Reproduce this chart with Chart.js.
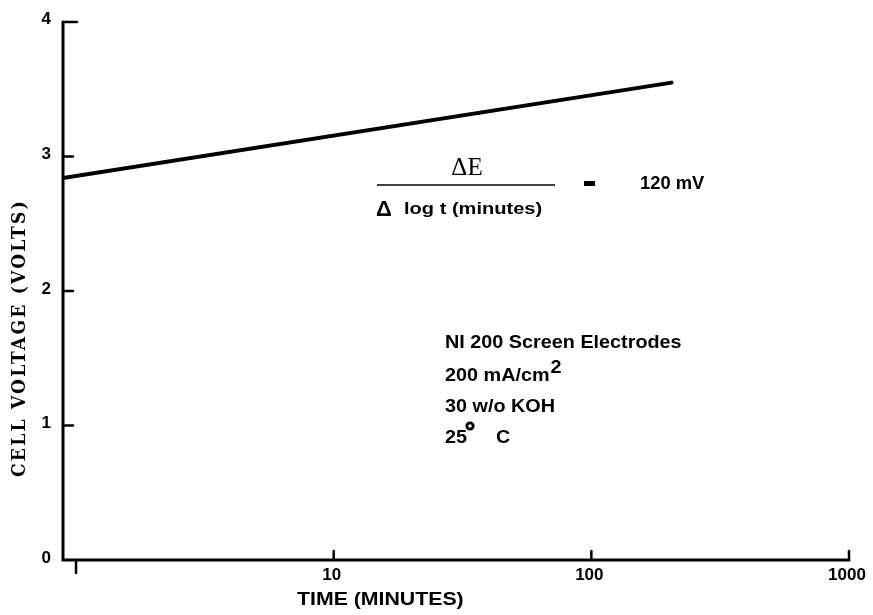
<!DOCTYPE html>
<html>
<head>
<meta charset="utf-8">
<script src="https://cdn.jsdelivr.net/npm/chart.js@4/dist/chart.umd.min.js"></script>
<style>
  html, body { margin: 0; padding: 0; background: #fff; }
  #wrap { width: 873px; height: 615px; position: relative; }
</style>
</head>
<body>
<div id="wrap"><canvas id="c" width="873" height="615"></canvas></div>
<script>
// Cell voltage vs. time (log scale)
const timeMinutes = [0.89, 205];
const cellVoltage = [2.84, 3.55];

const xTickValues = [1, 10, 100, 1000];
const xTickLabels = ['', '10', '100', '1000'];
const yTickValues = [0, 1, 2, 3, 4];

const xTitle = 'TIME (MINUTES)';
const yTitle = 'CELL VOLTAGE (VOLTS)';
const slopeNumerator = 'ΔE';
const slopeDenominator = 'log t (minutes)';
const slopeValue = '120 mV';
const conditions = ['NI 200 Screen Electrodes', '200 mA/cm', '30 w/o KOH', '25'];

const INK = '#000';
const SANS = '"Liberation Sans", Arial, sans-serif';
const WIDE = 1.1;   // the lettering is a broad gothic face

// left-aligned text stretched horizontally; returns the drawn width
function wideText(ctx, text, x, y, sx) {
  ctx.save();
  ctx.translate(x, y);
  ctx.scale(sx, 1);
  ctx.textAlign = 'left';
  ctx.fillText(text, 0, 0);
  const w = ctx.measureText(text).width * sx;
  ctx.restore();
  return w;
}

// Axes, ticks, labels and notes drawn with the scales' own pixel mapping
const decorations = {
  id: 'decorations',
  afterDraw(chart) {
    const ctx = chart.ctx;
    const xs = chart.scales.x, ys = chart.scales.y;
    const area = chart.chartArea;
    ctx.save();
    ctx.strokeStyle = INK;
    ctx.fillStyle = INK;
    ctx.lineCap = 'round';

    // axis lines
    ctx.lineWidth = 3;
    ctx.beginPath();
    ctx.moveTo(area.left, ys.getPixelForValue(4));
    ctx.lineTo(area.left, ys.getPixelForValue(0));
    ctx.lineTo(xs.getPixelForValue(1000), ys.getPixelForValue(0));
    ctx.stroke();

    // y ticks point into the plot
    ctx.lineWidth = 2.5;
    yTickValues.forEach(v => {
      if (v === 0) return;
      const py = ys.getPixelForValue(v);
      ctx.beginPath();
      ctx.moveTo(area.left, py);
      ctx.lineTo(area.left + (v === 4 ? 14 : 10), py);
      ctx.stroke();
    });

    // x ticks: first one hangs below, the rest rise above the axis
    const base = ys.getPixelForValue(0);
    xTickValues.forEach((v, i) => {
      const px = xs.getPixelForValue(v);
      ctx.beginPath();
      if (i === 0) { ctx.moveTo(px, base); ctx.lineTo(px, base + 13); }
      else { ctx.moveTo(px, base); ctx.lineTo(px, base - 9); }
      ctx.stroke();
    });

    // tick labels
    ctx.font = 'bold 17px ' + SANS;
    ctx.textAlign = 'right';
    ctx.textBaseline = 'middle';
    yTickValues.forEach(v => {
      const py = ys.getPixelForValue(v);
      ctx.fillText(String(v), 51, v === 4 ? py - 3 : py - 2);
    });
    ctx.textAlign = 'center';
    ctx.textBaseline = 'top';
    xTickValues.forEach((v, i) => {
      if (!xTickLabels[i]) return;
      ctx.fillText(xTickLabels[i], xs.getPixelForValue(v) - 2, base + 7);
    });

    // axis titles
    ctx.font = 'bold 19px ' + SANS;
    ctx.textBaseline = 'middle';
    wideText(ctx, xTitle, 297, 600, 1.12);

    ctx.save();
    ctx.translate(20, 338);
    ctx.rotate(-Math.PI / 2);
    ctx.font = 'bold 19px "DejaVu Serif Condensed", "DejaVu Serif", serif';
    const natural = ctx.measureText(yTitle).width;
    ctx.letterSpacing = Math.max(0, (278 - natural) / yTitle.length).toFixed(2) + 'px';
    ctx.textAlign = 'center';
    ctx.textBaseline = 'middle';
    ctx.fillText(yTitle, 0, 0);
    ctx.restore();

    // slope note
    ctx.textBaseline = 'alphabetic';
    ctx.font = '25px "Liberation Serif", "Times New Roman", serif';
    ctx.textAlign = 'center';
    ctx.fillText(slopeNumerator, 467, 175);
    ctx.lineWidth = 1.5;
    ctx.lineCap = 'butt';
    ctx.beginPath();
    ctx.moveTo(377, 185);
    ctx.lineTo(555, 185);
    ctx.stroke();
    ctx.font = 'bold 22px ' + SANS;
    wideText(ctx, 'Δ', 376, 216, 1.0);
    ctx.font = 'bold 17px ' + SANS;
    wideText(ctx, slopeDenominator, 404, 214, 1.18);
    ctx.fillRect(584, 181, 11, 5);
    ctx.font = 'bold 18px ' + SANS;
    wideText(ctx, slopeValue, 640, 189, 1.02);

    // test conditions
    ctx.font = 'bold 18px ' + SANS;
    const tx = 445;
    wideText(ctx, conditions[0], tx, 348, WIDE);
    const w1 = wideText(ctx, conditions[1], tx, 381, WIDE);
    wideText(ctx, '2', tx + w1 + 1, 373, WIDE);
    wideText(ctx, conditions[2], tx, 412, WIDE);
    const w3 = wideText(ctx, conditions[3], tx, 443, WIDE);
    ctx.lineWidth = 2.8;
    ctx.beginPath();
    ctx.arc(tx + w3 + 3, 426, 3.2, 0, Math.PI * 2);
    ctx.stroke();
    wideText(ctx, 'C', tx + w3 + 29, 443, WIDE);

    ctx.restore();
  }
};

new Chart(document.getElementById('c'), {
  type: 'line',
  data: {
    datasets: [{
      data: timeMinutes.map((t, i) => ({ x: t, y: cellVoltage[i] })),
      borderColor: INK,
      borderWidth: 3.8,
      borderCapStyle: 'round',
      pointRadius: 0,
      fill: false,
      tension: 0
    }]
  },
  options: {
    responsive: false,
    animation: false,
    devicePixelRatio: 1,
    layout: { padding: { left: 63, right: 24, top: 22, bottom: 55 } },
    plugins: { legend: { display: false }, tooltip: { enabled: false } },
    scales: {
      x: {
        type: 'logarithmic',
        min: 0.89,
        max: 1000,
        afterBuildTicks: s => { s.ticks = xTickValues.map(v => ({ value: v })); },
        ticks: { display: false },
        grid: { display: false, drawTicks: false },
        border: { display: false }
      },
      y: {
        type: 'linear',
        min: 0,
        max: 4,
        afterBuildTicks: s => { s.ticks = yTickValues.map(v => ({ value: v })); },
        ticks: { display: false },
        grid: { display: false, drawTicks: false },
        border: { display: false }
      }
    }
  },
  plugins: [decorations]
});
</script>
</body>
</html>
